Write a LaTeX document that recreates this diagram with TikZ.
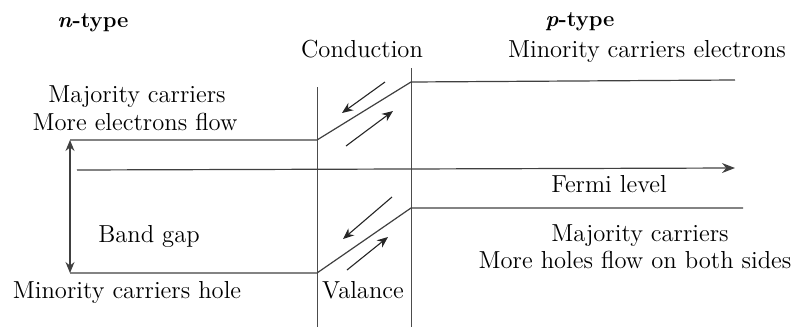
\documentclass[tikz,border=0pt]{standalone}
\usetikzlibrary{arrows.meta}
\begin{document}
\begin{tikzpicture}[x=0.5pt, y=-0.5pt,
  band/.style={draw=black!75, line width=0.6pt},
  wall/.style={draw=black!70, line width=0.5pt},
  flow/.style={draw=black!85, line width=0.55pt, -{Stealth[length=5.5pt, width=4.5pt]}},
  lbl/.style={font=\fontsize{12.3}{14}\selectfont, inner sep=0pt, anchor=base},
  ttl/.style={font=\fontsize{11}{14}\selectfont\bfseries, inner sep=0pt, anchor=base}]
\useasboundingbox (0,0) rectangle (800,327);
% junction walls
\coordinate (wl1) at (317,87);  \coordinate (wl2) at (317,327);
\coordinate (wr1) at (411,68);  \coordinate (wr2) at (411,327);
\draw[wall] (wl1)--(wl2); \draw[wall] (wr1)--(wr2);
% conduction and valence band edges, bent across the junction
\coordinate (c0) at (70,140);  \coordinate (c1) at (317,140);
\coordinate (c2) at (411,82);  \coordinate (c3) at (735,80);
\coordinate (v0) at (70,273);  \coordinate (v1) at (317,273);
\coordinate (v2) at (411,208); \coordinate (v3) at (743,208);
\draw[band] (c0)--(c1)--(c2)--(c3);
\draw[band] (v0)--(v1)--(v2)--(v3);
% fermi level
\coordinate (f0) at (77,170); \coordinate (f1) at (735,168);
\draw[band, -{Stealth[length=6.5pt, width=5pt]}] (f0)--(f1);
% band gap
\draw[band, {Stealth[length=5.5pt, width=4.5pt]}-{Stealth[length=5.5pt, width=4.5pt]}] (c0)--(v0);
% carrier flow along the slopes
\coordinate (ca1) at (385,82);  \coordinate (ca2) at (342,113);
\coordinate (cb1) at (346,146); \coordinate (cb2) at (393,111);
\coordinate (va1) at (392,197); \coordinate (va2) at (343,239);
\coordinate (vb1) at (347,270); \coordinate (vb2) at (388,237);
\draw[flow] (ca1)--(ca2); \draw[flow] (cb1)--(cb2);
\draw[flow] (va1)--(va2); \draw[flow] (vb1)--(vb2);
% labels
\node[ttl] (ntype) at (93,27) {\textit{n}-type};
\node[ttl] (ptype) at (580,26) {\textit{p}-type};
\node[lbl] (cond) at (362,57) {Conduction};
\node[lbl] (val) at (363,298) {Valance};
\node[lbl] (minel) at (647,57) {Minority carriers electrons};
\node[lbl] (majn1) at (137,102) {Majority carriers};
\node[lbl] (majn2) at (135,130) {More electrons flow};
\node[lbl] (gap) at (149,242) {Band gap};
\node[lbl] (minh) at (127,298) {Minority carriers hole};
\node[lbl] (fermi) at (609,192) {Fermi level};
\node[lbl] (majp1) at (640,241) {Majority carriers};
\node[lbl] (majp2) at (635,268) {More holes flow on both sides};
\end{tikzpicture}
\end{document}
